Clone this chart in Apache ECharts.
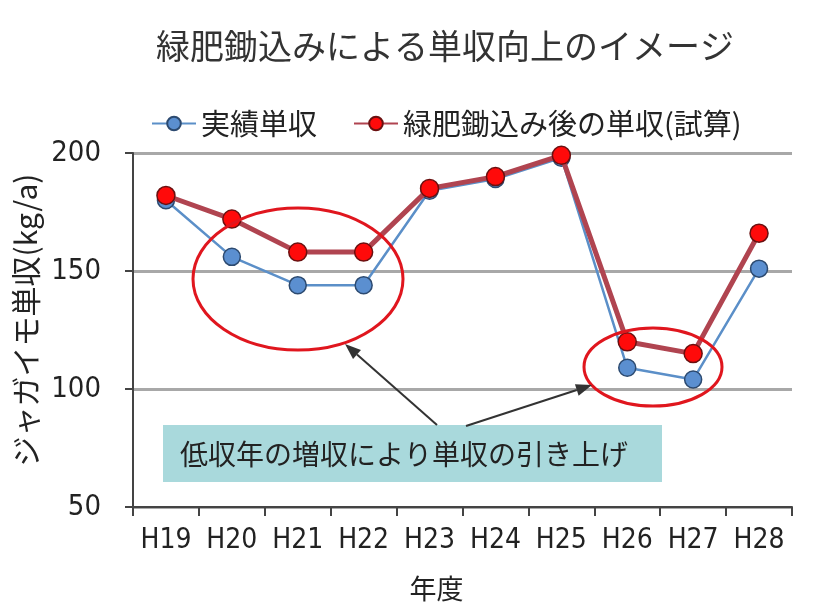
<!DOCTYPE html>
<html><head><meta charset="utf-8">
<script src="https://cdn.jsdelivr.net/npm/echarts@6/dist/echarts.min.js"></script>
<style>html,body{margin:0;padding:0;background:#fff}#c{width:832px;height:612px}</style>
</head><body><div id="c"></div>
<script>
const categories = ['H19','H20','H21','H22','H23','H24','H25','H26','H27','H28'];
const actualYield = [180, 156, 144, 144, 184, 189, 198, 109, 104, 151];
const greenManureYield = [182, 172, 158, 158, 185, 190, 199, 120, 115, 166];
const yTicks = [50, 100, 150, 200];
const FONT = '"Noto Sans CJK JP", sans-serif';
const NUMFONT = '"DejaVu Sans Condensed", "Liberation Sans", sans-serif';

function arrow(x1, y1, x2, y2) {
  const a = Math.atan2(y2 - y1, x2 - x1), L = 16, W = 6;
  const bx = x2 - L * Math.cos(a), by = y2 - L * Math.sin(a);
  const px = -Math.sin(a) * W, py = Math.cos(a) * W;
  return [
    { type: 'line', z: 12, shape: { x1: x1, y1: y1, x2: bx, y2: by }, style: { stroke: '#333', lineWidth: 2 } },
    { type: 'polygon', z: 12, shape: { points: [[x2, y2], [bx + px, by + py], [bx - px, by - py]] }, style: { fill: '#333' } }
  ];
}

const chart = echarts.init(document.getElementById('c'));
chart.setOption({
  backgroundColor: '#fff',
  animation: false,
  textStyle: { fontFamily: FONT, color: '#222' },
  title: {
    text: '緑肥鋤込みによる単収向上のイメージ',
    left: 440, top: 24, textAlign: 'center',
    textStyle: { fontFamily: FONT, fontSize: 34, fontWeight: 'normal', color: '#333' }
  },
  legend: {
    left: 146, top: 104, itemWidth: 44, itemHeight: 17, itemGap: 36,
    textStyle: { fontFamily: FONT, fontSize: 29, color: '#222' },
    data: ['実績単収', '緑肥鋤込み後の単収(試算)']
  },
  grid: { left: 133, right: 40, top: 153, bottom: 105, containLabel: false, outerBoundsMode: 'none' },
  xAxis: {
    type: 'category', data: categories, boundaryGap: true,
    name: '年度', nameLocation: 'middle', nameGap: 68,
    nameTextStyle: { fontFamily: FONT, fontSize: 27, color: '#222', padding: [0, 52, 0, 0] },
    axisLine: { lineStyle: { color: '#444', width: 2 } },
    axisTick: { show: true, length: 9, inside: false, interval: 0, lineStyle: { color: '#444', width: 2 } },
    axisLabel: { fontFamily: NUMFONT, fontSize: 28, color: '#222', margin: 20, interval: 0 }
  },
  yAxis: {
    type: 'value', min: yTicks[0], max: yTicks[yTicks.length - 1], interval: 50,
    name: 'ジャガイモ単収(kg/a)', nameLocation: 'middle', nameGap: 80, nameRotate: 90,
    nameTextStyle: { fontFamily: FONT, fontSize: 30, color: '#222', padding: [0, 0, 0, 20] },
    axisLine: { show: true, lineStyle: { color: '#444', width: 2 } },
    axisTick: { show: true, length: 8, lineStyle: { color: '#444', width: 2 } },
    axisLabel: { fontFamily: NUMFONT, fontSize: 29, color: '#222', margin: 32 },
    splitLine: { lineStyle: { color: '#a8a8a8', width: 3 } }
  },
  series: [
    {
      name: '実績単収', type: 'line', data: actualYield,
      symbol: 'circle', symbolSize: 17,
      lineStyle: { color: '#5b8fc8', width: 2.5 },
      itemStyle: { color: '#5b8fd0', borderColor: '#2c4a70', borderWidth: 1.5 },
      z: 2
    },
    {
      name: '緑肥鋤込み後の単収(試算)', type: 'line', data: greenManureYield,
      symbol: 'circle', symbolSize: 18,
      lineStyle: { color: '#b04450', width: 5 },
      itemStyle: { color: '#ff0a0a', borderColor: '#6a1010', borderWidth: 1.5 },
      z: 3
    }
  ],
  graphic: [
    { type: 'ellipse', shape: { cx: 298, cy: 279, rx: 105, ry: 71 }, z: 10,
      style: { fill: 'none', stroke: '#e0161e', lineWidth: 3 } },
    { type: 'ellipse', shape: { cx: 653, cy: 367, rx: 69, ry: 39 }, z: 10,
      style: { fill: 'none', stroke: '#e0161e', lineWidth: 3 } },
    { type: 'rect', shape: { x: 163, y: 425, width: 499, height: 57 }, z: 9,
      style: { fill: '#a9d9dc' } },
    { type: 'text', x: 404, y: 454, z: 11,
      style: { text: '低収年の増収により単収の引き上げ', font: '28px ' + FONT, fill: '#222',
        textAlign: 'center', textVerticalAlign: 'middle' } }
  ].concat(arrow(437, 425, 345, 344), arrow(466, 426, 592, 385))
});
</script></body></html>
